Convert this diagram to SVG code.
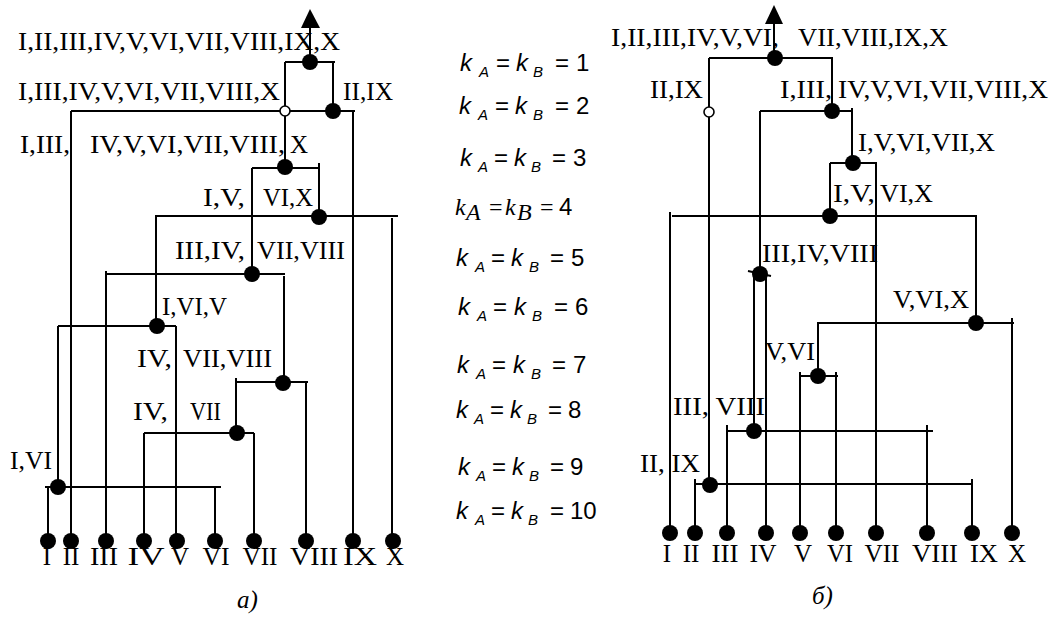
<svg xmlns="http://www.w3.org/2000/svg" width="1054" height="617" viewBox="0 0 1054 617">
<style>
.ln{stroke:#000;stroke-width:2;fill:none}
.dot{fill:#000}
.open{fill:#fff;stroke:#000;stroke-width:1.6}
.lbl{font-family:"Liberation Serif","Times New Roman",serif;font-size:25px;fill:#000}
.leaf{font-family:"Liberation Serif","Times New Roman",serif;font-size:25px;fill:#000;text-anchor:middle}
.cap{font-family:"Liberation Serif","Times New Roman",serif;font-size:25px;font-style:italic;fill:#000}
.f{font-family:"Liberation Sans",Arial,sans-serif;font-size:24px;fill:#000}
.fi{font-style:italic}
.sub{font-size:15px;font-style:italic}
.fs{font-family:"Liberation Serif","Times New Roman",serif;font-style:italic;font-size:24px}
.fse{font-family:"Liberation Serif","Times New Roman",serif;font-size:24px}
</style>
<rect width="1054" height="617" fill="#fff"/>

<!-- ===== Connectors ===== -->
<g id="connectors">
  <!-- left tree -->
  <path class="ln" d="M310,27V62"/>
  <polygon points="310,9 301,28 320,28" fill="#000"/>
  <path class="ln" d="M285,62H335 M285,62V167 M333,62V111"/>
  <path class="ln" d="M71,111H355 M71,111V541 M353,111V541"/>
  <path class="ln" d="M252,168H319 M252,168V274 M319,163V217"/>
  <path class="ln" d="M155,216H398 M156,216V326 M392,218V541"/>
  <path class="ln" d="M106,274H285 M106,271V541 M284,276V383"/>
  <path class="ln" d="M58,326H176 M58,326V487 M176,326V541"/>
  <path class="ln" d="M236,382H308 M236,378V433 M306,382V541"/>
  <path class="ln" d="M144,433H254 M144,433V541 M254,433V541"/>
  <path class="ln" d="M45,487H221 M48,487V541 M215,487V541"/>
  <!-- right tree -->
  <path class="ln" d="M774,23V58"/>
  <polygon points="774,5 765,24 783,24" fill="#000"/>
  <path class="ln" d="M709,58H833 M709,58V485 M832,58V111"/>
  <path class="ln" d="M760,111H852 M760,111V274 M852,108V163"/>
  <path class="ln" d="M830,163H877 M830,163V216 M876,163V533"/>
  <path class="ln" d="M672,216H977 M670,212V533 M976,216V323"/>
  <path class="ln" d="M748,271L771,276 M754,274V431 M766,274V533"/>
  <path class="ln" d="M817,323H1014 M818,323V376 M1012,318V533"/>
  <path class="ln" d="M799,376H838 M800,372V533 M836,372V533"/>
  <path class="ln" d="M727,431H933 M727,425V533 M927,425V533"/>
  <path class="ln" d="M695,484H973 M695,479V533 M972,479V533"/>
</g>

<!-- ===== Left tree internal nodes ===== -->
<g id="a-n1"><circle class="dot" cx="310" cy="62" r="8"/><text class="lbl" x="18" y="50" textLength="322" lengthAdjust="spacingAndGlyphs">I,II,III,IV,V,VI,VII,VIII,IX,X</text></g>
<g id="a-n2a"><circle class="open" cx="285" cy="111" r="5"/><text class="lbl" x="18" y="100" textLength="262" lengthAdjust="spacingAndGlyphs">I,III,IV,V,VI,VII,VIII,X</text></g>
<g id="a-n2b"><circle class="dot" cx="333" cy="111" r="8"/><text class="lbl" x="343" y="100" textLength="50" lengthAdjust="spacingAndGlyphs">II,IX</text></g>
<g id="a-n3"><circle class="dot" cx="285" cy="167" r="8"/>
  <text class="lbl" x="20" y="153" textLength="50" lengthAdjust="spacingAndGlyphs">I,III,</text>
  <text class="lbl" x="90" y="153" textLength="195" lengthAdjust="spacingAndGlyphs">IV,V,VI,VII,VIII,</text>
  <text class="lbl" x="290" y="153">X</text></g>
<g id="a-n4"><circle class="dot" cx="319" cy="217" r="8"/>
  <text class="lbl" x="203" y="206" textLength="42" lengthAdjust="spacingAndGlyphs">I,V,</text>
  <text class="lbl" x="263" y="206" textLength="50" lengthAdjust="spacingAndGlyphs">VI,X</text></g>
<g id="a-n5"><circle class="dot" cx="252" cy="274" r="8"/>
  <text class="lbl" x="175" y="259" textLength="70" lengthAdjust="spacingAndGlyphs">III,IV,</text>
  <text class="lbl" x="257" y="259" textLength="88" lengthAdjust="spacingAndGlyphs">VII,VIII</text></g>
<g id="a-n6"><circle class="dot" cx="157" cy="326" r="8"/>
  <text class="lbl" x="162" y="315" textLength="65" lengthAdjust="spacingAndGlyphs">I,VI,V</text></g>
<g id="a-n7"><circle class="dot" cx="283" cy="383" r="8"/>
  <text class="lbl" x="137" y="367" textLength="35" lengthAdjust="spacingAndGlyphs">IV,</text>
  <text class="lbl" x="183" y="367" textLength="89" lengthAdjust="spacingAndGlyphs">VII,VIII</text></g>
<g id="a-n8"><circle class="dot" cx="237" cy="433" r="8"/>
  <text class="lbl" x="133" y="420" textLength="35" lengthAdjust="spacingAndGlyphs">IV,</text>
  <text class="lbl" x="190" y="420" textLength="31" lengthAdjust="spacingAndGlyphs">VII</text></g>
<g id="a-n9"><circle class="dot" cx="58" cy="487" r="8"/>
  <text class="lbl" x="10" y="469" textLength="42" lengthAdjust="spacingAndGlyphs">I,VI</text></g>

<!-- ===== Left tree leaves ===== -->
<g id="a-leaves">
  <g id="a-I"><circle class="dot" cx="48" cy="541" r="8"/><text class="leaf" x="47" y="565">I</text></g>
  <g id="a-II"><circle class="dot" cx="71" cy="541" r="8"/><text class="leaf" x="71" y="565">II</text></g>
  <g id="a-III"><circle class="dot" cx="106" cy="541" r="8"/><text class="leaf" x="104" y="565" textLength="28" lengthAdjust="spacingAndGlyphs">III</text></g>
  <g id="a-IV"><circle class="dot" cx="144" cy="541" r="8"/><text class="leaf" x="146" y="565" textLength="37" lengthAdjust="spacingAndGlyphs">IV</text></g>
  <g id="a-V"><circle class="dot" cx="177" cy="541" r="8"/><text class="leaf" x="180" y="565">V</text></g>
  <g id="a-VI"><circle class="dot" cx="215" cy="541" r="8"/><text class="leaf" x="216" y="565" textLength="27" lengthAdjust="spacingAndGlyphs">VI</text></g>
  <g id="a-VII"><circle class="dot" cx="254" cy="541" r="8"/><text class="leaf" x="260" y="565" textLength="35" lengthAdjust="spacingAndGlyphs">VII</text></g>
  <g id="a-VIII"><circle class="dot" cx="306" cy="541" r="8"/><text class="leaf" x="314" y="565" textLength="48" lengthAdjust="spacingAndGlyphs">VIII</text></g>
  <g id="a-IX"><circle class="dot" cx="353" cy="541" r="8"/><text class="leaf" x="360" y="565" textLength="34" lengthAdjust="spacingAndGlyphs">IX</text></g>
  <g id="a-X"><circle class="dot" cx="393" cy="541" r="8"/><text class="leaf" x="395" y="565">X</text></g>
</g>
<text class="cap" x="237" y="608">а)</text>

<!-- ===== Middle formulas ===== -->
<g id="levels" class="f">
  <text y="71"><tspan class="fi" x="460">k</tspan><tspan class="sub" x="479" dy="6">A</tspan><tspan x="496" dy="-6">=</tspan><tspan class="fi" x="516">k</tspan><tspan class="sub" x="533" dy="6">B</tspan><tspan x="555" dy="-6">=</tspan><tspan x="576">1</tspan></text>
  <text y="114"><tspan class="fi" x="459">k</tspan><tspan class="sub" x="478" dy="6">A</tspan><tspan x="495" dy="-6">=</tspan><tspan class="fi" x="515">k</tspan><tspan class="sub" x="533" dy="6">B</tspan><tspan x="555" dy="-6">=</tspan><tspan x="576">2</tspan></text>
  <text y="166"><tspan class="fi" x="460">k</tspan><tspan class="sub" x="478" dy="6">A</tspan><tspan x="494" dy="-6">=</tspan><tspan class="fi" x="514">k</tspan><tspan class="sub" x="531" dy="6">B</tspan><tspan x="552" dy="-6">=</tspan><tspan x="573">3</tspan></text>
  <text y="215"><tspan class="fs" x="455">k</tspan><tspan class="fs" x="466" dy="5">A</tspan><tspan class="fse" x="489" dy="-5">=</tspan><tspan class="fs" x="505">k</tspan><tspan class="fs" x="517" dy="5">B</tspan><tspan class="fse" x="540" dy="-5">=</tspan><tspan x="559">4</tspan></text>
  <text y="266"><tspan class="fi" x="456">k</tspan><tspan class="sub" x="475" dy="6">A</tspan><tspan x="491" dy="-6">=</tspan><tspan class="fi" x="511">k</tspan><tspan class="sub" x="529" dy="6">B</tspan><tspan x="550" dy="-6">=</tspan><tspan x="571">5</tspan></text>
  <text y="315"><tspan class="fi" x="458">k</tspan><tspan class="sub" x="477" dy="6">A</tspan><tspan x="493" dy="-6">=</tspan><tspan class="fi" x="514">k</tspan><tspan class="sub" x="532" dy="6">B</tspan><tspan x="554" dy="-6">=</tspan><tspan x="575">6</tspan></text>
  <text y="373"><tspan class="fi" x="457">k</tspan><tspan class="sub" x="476" dy="6">A</tspan><tspan x="492" dy="-6">=</tspan><tspan class="fi" x="513">k</tspan><tspan class="sub" x="531" dy="6">B</tspan><tspan x="552" dy="-6">=</tspan><tspan x="573">7</tspan></text>
  <text y="418"><tspan class="fi" x="456">k</tspan><tspan class="sub" x="474" dy="6">A</tspan><tspan x="490" dy="-6">=</tspan><tspan class="fi" x="510">k</tspan><tspan class="sub" x="527" dy="6">B</tspan><tspan x="548" dy="-6">=</tspan><tspan x="568">8</tspan></text>
  <text y="475"><tspan class="fi" x="458">k</tspan><tspan class="sub" x="476" dy="6">A</tspan><tspan x="492" dy="-6">=</tspan><tspan class="fi" x="512">k</tspan><tspan class="sub" x="529" dy="6">B</tspan><tspan x="550" dy="-6">=</tspan><tspan x="570">9</tspan></text>
  <text y="519"><tspan class="fi" x="456">k</tspan><tspan class="sub" x="475" dy="6">A</tspan><tspan x="491" dy="-6">=</tspan><tspan class="fi" x="511">k</tspan><tspan class="sub" x="528" dy="6">B</tspan><tspan x="550" dy="-6">=</tspan><tspan x="570">10</tspan></text>
</g>

<!-- ===== Right tree internal nodes ===== -->
<g id="b-n1"><circle class="dot" cx="775" cy="58" r="8"/>
  <text class="lbl" x="611" y="46" textLength="168" lengthAdjust="spacingAndGlyphs">I,II,III,IV,V,VI,</text>
  <text class="lbl" x="798" y="46" textLength="150" lengthAdjust="spacingAndGlyphs">VII,VIII,IX,X</text></g>
<g id="b-n2a"><circle class="open" cx="709" cy="112" r="5"/>
  <text class="lbl" x="650" y="98" textLength="53" lengthAdjust="spacingAndGlyphs">II,IX</text></g>
<g id="b-n2b"><circle class="dot" cx="832" cy="111" r="8"/>
  <text class="lbl" x="780" y="98" textLength="52" lengthAdjust="spacingAndGlyphs">I,III,</text>
  <text class="lbl" x="838" y="98" textLength="210" lengthAdjust="spacingAndGlyphs">IV,V,VI,VII,VIII,X</text></g>
<g id="b-n3"><circle class="dot" cx="853" cy="163" r="8"/>
  <text class="lbl" x="858" y="151" textLength="137" lengthAdjust="spacingAndGlyphs">I,V,VI,VII,X</text></g>
<g id="b-n4"><circle class="dot" cx="830" cy="216" r="8"/>
  <text class="lbl" x="833" y="202" textLength="42" lengthAdjust="spacingAndGlyphs">I,V,</text>
  <text class="lbl" x="880" y="202" textLength="53" lengthAdjust="spacingAndGlyphs">VI,X</text></g>
<g id="b-n5"><circle class="dot" cx="760" cy="274" r="8"/>
  <text class="lbl" x="762" y="262" textLength="116" lengthAdjust="spacingAndGlyphs">III,IV,VIII</text></g>
<g id="b-n6"><circle class="dot" cx="976" cy="323" r="8"/>
  <text class="lbl" x="893" y="308" textLength="76" lengthAdjust="spacingAndGlyphs">V,VI,X</text></g>
<g id="b-n7"><circle class="dot" cx="818" cy="376" r="8"/>
  <text class="lbl" x="765" y="360" textLength="50" lengthAdjust="spacingAndGlyphs">V,VI</text></g>
<g id="b-n8"><circle class="dot" cx="754" cy="431" r="8"/>
  <text class="lbl" x="673" y="415" textLength="92" lengthAdjust="spacingAndGlyphs">III, VIII</text></g>
<g id="b-n9"><circle class="dot" cx="710" cy="485" r="8"/>
  <text class="lbl" x="640" y="472" textLength="60" lengthAdjust="spacingAndGlyphs">II, IX</text></g>

<!-- ===== Right tree leaves ===== -->
<g id="b-leaves">
  <g id="b-I"><circle class="dot" cx="670" cy="533" r="8"/><text class="leaf" x="667" y="562">I</text></g>
  <g id="b-II"><circle class="dot" cx="695" cy="533" r="8"/><text class="leaf" x="691" y="562">II</text></g>
  <g id="b-III"><circle class="dot" cx="727" cy="533" r="8"/><text class="leaf" x="725" y="562" textLength="27" lengthAdjust="spacingAndGlyphs">III</text></g>
  <g id="b-IV"><circle class="dot" cx="766" cy="533" r="8"/><text class="leaf" x="763" y="562" textLength="27" lengthAdjust="spacingAndGlyphs">IV</text></g>
  <g id="b-V"><circle class="dot" cx="800" cy="533" r="8"/><text class="leaf" x="803" y="562">V</text></g>
  <g id="b-VI"><circle class="dot" cx="836" cy="533" r="8"/><text class="leaf" x="840" y="562" textLength="26" lengthAdjust="spacingAndGlyphs">VI</text></g>
  <g id="b-VII"><circle class="dot" cx="876" cy="533" r="8"/><text class="leaf" x="882" y="562" textLength="35" lengthAdjust="spacingAndGlyphs">VII</text></g>
  <g id="b-VIII"><circle class="dot" cx="927" cy="533" r="8"/><text class="leaf" x="935" y="562" textLength="46" lengthAdjust="spacingAndGlyphs">VIII</text></g>
  <g id="b-IX"><circle class="dot" cx="972" cy="533" r="8"/><text class="leaf" x="984" y="562" textLength="28" lengthAdjust="spacingAndGlyphs">IX</text></g>
  <g id="b-X"><circle class="dot" cx="1012" cy="533" r="8"/><text class="leaf" x="1017" y="562">X</text></g>
</g>
<text class="cap" x="812" y="604">б)</text>
</svg>
